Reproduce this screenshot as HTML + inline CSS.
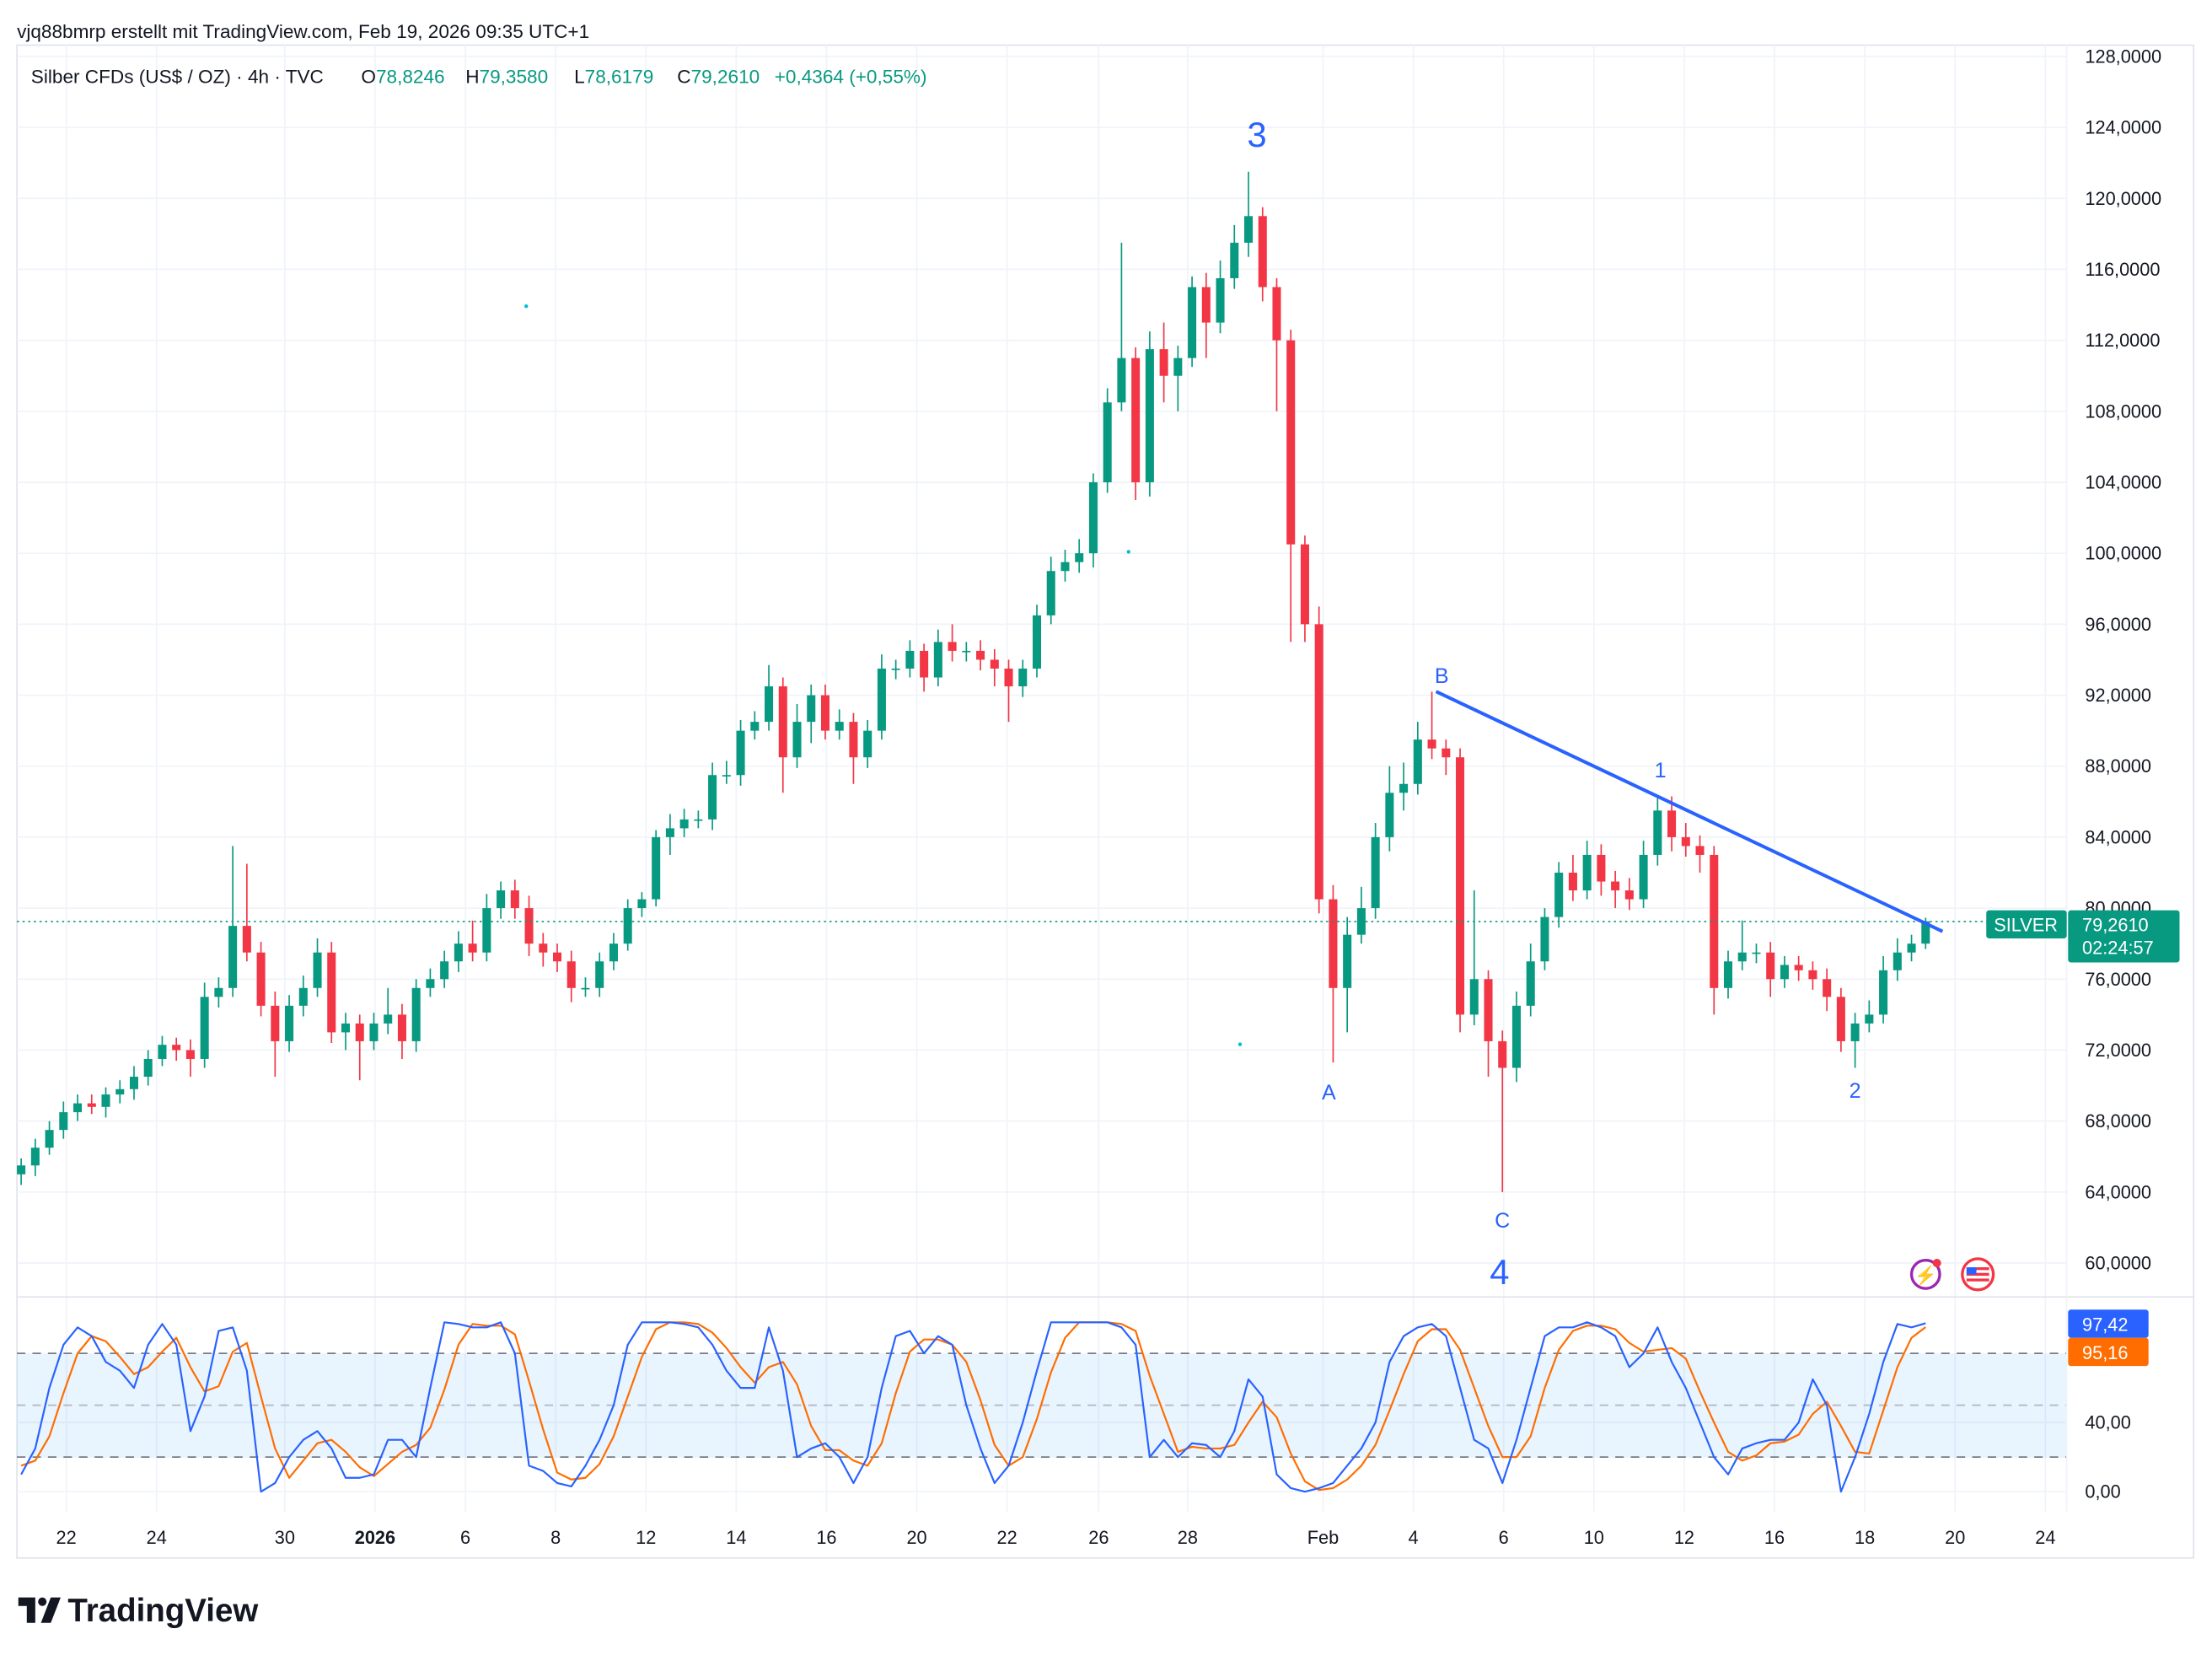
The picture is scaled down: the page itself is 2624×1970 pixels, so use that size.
<!DOCTYPE html>
<html><head><meta charset="utf-8">
<style>
html,body{margin:0;padding:0;background:#fff;}
svg{display:block;font-family:"Liberation Sans",sans-serif;}
</style></head>
<body>
<svg id="chart" width="2624" height="1970" viewBox="0 0 1568 1177" preserveAspectRatio="none" xmlns="http://www.w3.org/2000/svg">
<rect x="0" y="0" width="1568" height="1177" fill="#ffffff"/>
<text x="12" y="27" font-size="13.5" fill="#131722">vjq88bmrp erstellt mit TradingView.com, Feb 19, 2026 09:35 UTC+1</text>
<rect x="12" y="32" width="1543" height="1072" fill="none" stroke="#e0e3eb" stroke-width="1"/>
<g id="grid"></g>
<rect x="12" y="959" width="1453" height="74" fill="#2196f3" fill-opacity="0.1"/>
<g id="levels"></g>
<line x1="12" y1="919" x2="1555" y2="919" stroke="#e0e3eb" stroke-width="1"/>
<line x1="1465" y1="32" x2="1465" y2="1071" stroke="#f0f3fa" stroke-width="1"/>
<text y="59" font-size="13.5" fill="#131722"><tspan x="22">Silber CFDs (US$ / OZ) · 4h · TVC</tspan><tspan x="256">O</tspan><tspan fill="#089981">78,8246</tspan><tspan x="330">H</tspan><tspan fill="#089981">79,3580</tspan><tspan x="407">L</tspan><tspan fill="#089981">78,6179</tspan><tspan x="480">C</tspan><tspan fill="#089981">79,2610</tspan><tspan x="549" fill="#089981">+0,4364 (+0,55%)</tspan></text>
<g id="candles"></g>
<g id="stoch"></g>
<g id="axes"></g>
<line x1="12" y1="653" x2="1465" y2="653" stroke="#089981" stroke-width="1" stroke-dasharray="1.5,2.5"/>
<line x1="1018" y1="490" x2="1377" y2="660" stroke="#2962ff" stroke-width="2.4"/>
<text x="891" y="104" font-size="25" fill="#2962ff" text-anchor="middle">3</text>
<text x="1063" y="910" font-size="25" fill="#2962ff" text-anchor="middle">4</text>
<text x="1022" y="484" font-size="15" fill="#2962ff" text-anchor="middle">B</text>
<text x="1177" y="551" font-size="15" fill="#2962ff" text-anchor="middle">1</text>
<text x="942" y="779" font-size="15" fill="#2962ff" text-anchor="middle">A</text>
<text x="1065" y="870" font-size="15" fill="#2962ff" text-anchor="middle">C</text>
<text x="1315" y="778" font-size="15" fill="#2962ff" text-anchor="middle">2</text>
<circle cx="373" cy="217" r="1.3" fill="#00bcd4"/>
<circle cx="800" cy="391" r="1.3" fill="#00bcd4"/>
<circle cx="879" cy="740" r="1.3" fill="#00bcd4"/>
<g><circle cx="1365" cy="903" r="10" fill="#fff" stroke="#9c27b0" stroke-width="2"/><text x="1365" y="908" font-size="13" text-anchor="middle" fill="#9c27b0">⚡</text><circle cx="1373" cy="895" r="3" fill="#f23645"/></g>
<g><circle cx="1402" cy="903" r="11" fill="#fff" stroke="#f23645" stroke-width="2"/><rect x="1394" y="898" width="16" height="10" fill="#f23645"/><rect x="1394" y="900" width="16" height="2" fill="#fff"/><rect x="1394" y="904" width="16" height="2" fill="#fff"/><rect x="1394" y="898" width="7" height="5" fill="#2962ff"/></g>
<rect x="1408" y="645" width="57" height="20" rx="2" fill="#089981"/>
<text x="1436" y="660" font-size="13" fill="#fff" text-anchor="middle">SILVER</text>
<rect x="1466" y="645" width="79" height="37" rx="2" fill="#089981"/>
<text x="1476" y="660" font-size="13" fill="#fff">79,2610</text>
<text x="1476" y="676" font-size="13" fill="#fff">02:24:57</text>
<rect x="1466" y="928" width="57" height="20" rx="2" fill="#2962ff"/>
<text x="1476" y="943" font-size="13" fill="#fff">97,42</text>
<rect x="1466" y="948" width="57" height="20" rx="2" fill="#ff6d00"/>
<text x="1476" y="963" font-size="13" fill="#fff">95,16</text>
<g>
<path d="M13 1132 h12 v18 h-6 v-12 h-6 z" fill="#131722"/><circle cx="30" cy="1135" r="3" fill="#131722"/><path d="M36 1132 h7 l-7 18 h-7 z" fill="#131722"/>
<text x="48" y="1149" font-size="23" font-weight="bold" fill="#131722">TradingView</text>
</g>
</svg>
<script>
const closes=[65.5,66.5,67.5,68.5,69.0,68.8,69.5,69.8,70.5,71.5,
72.3,72.0,71.5,75.0,75.5,79.0,77.5,74.5,72.5,74.5,
75.5,77.5,73.0,73.5,72.5,73.5,74.0,72.5,75.5,76.0,
77.0,78.0,77.5,80.0,81.0,80.0,78.0,77.5,77.0,75.5,
75.5,77.0,78.0,80.0,80.5,84.0,84.5,85.0,85.0,87.5,
87.5,90.0,90.5,92.5,88.5,90.5,92.0,90.0,90.5,88.5,
90.0,93.5,93.5,94.5,93.0,95.0,94.5,94.5,94.0,93.5,
92.5,93.5,96.5,99.0,99.5,100.0,104.0,108.5,111.0,104.0,
111.5,110.0,111.0,115.0,113.0,115.5,117.5,119.0,115.0,112.0,
100.5,96.0,80.5,75.5,78.5,80.0,84.0,86.5,87.0,89.5,
89.0,88.5,74.0,76.0,72.5,71.0,74.5,77.0,79.5,82.0,
81.0,83.0,81.5,81.0,80.5,83.0,85.5,84.0,83.5,83.0,
75.5,77.0,77.5,77.5,76.0,76.8,76.5,76.0,75.0,72.5,
73.5,74.0,76.5,77.5,78.0,79.26];
const openFirst=65.0;
const wickUp=[.4,.5,.5,.6,.5,.5,.4,.5,.6,.5,
.5,.4,.6,.8,.6,4.5,3.5,.6,.8,.6,
.7,.8,.6,.6,.5,.6,1.5,.6,.5,.6,
.6,.7,1.3,.8,.5,.6,.7,.6,.5,.6,
.6,.5,.6,.5,.4,.4,.8,.6,.5,.7,
.8,.6,.6,1.2,.5,1.0,.6,.6,.7,.5,
.6,.8,.5,.6,.4,.7,1.0,.5,.6,.6,
.5,.5,.6,.8,.7,.8,.5,.8,6.5,.6,
1.0,1.5,.7,.6,.8,1.0,1.0,2.5,.5,.5,
.6,.5,1.0,.8,1.0,1.2,.8,1.5,1.2,1.0,
2.7,.5,.5,5.0,.5,.6,.8,1.0,.5,.6,
1.0,.8,.6,.6,.7,.8,.8,.8,.8,.6,
.5,.6,1.8,.5,.6,.5,.5,.5,.6,.5,
.6,.8,.8,.8,.5,.2];
const wickDown=[.6,.6,.4,.5,.5,.4,.6,.5,.6,.5,
.4,.6,1.0,.5,.6,.5,.5,.6,2.0,.6,
.6,.5,.6,1.0,2.2,.5,.6,1.0,.6,.5,
.5,.6,.5,.5,.6,.6,.7,.8,.6,.8,
.5,.5,.5,.4,.5,.4,1.0,.5,.5,.6,
.5,.6,.5,.5,2.0,.6,1.2,.5,.5,1.5,
.6,.5,.6,.5,.8,.5,.6,.6,.6,1.0,
2.0,.6,.5,.5,.6,.6,.8,.6,.5,1.0,
.8,1.5,2.0,.5,2.0,.6,.6,.8,.8,4.0,
5.5,1.0,.8,4.2,2.5,.5,.6,.8,1.0,.6,
.6,1.0,1.0,.6,2.0,7.0,.8,.6,.5,.6,
.6,.5,.8,1.0,.6,.5,.6,.8,.6,1.0,
1.5,.6,.5,.6,1.0,.5,.6,.6,.8,.6,
1.5,.5,.5,.6,.5,.3];
const stochK=[10,25,60,85,95,90,75,70,60,85,
97,85,35,55,93,95,70,0,5,20,
30,35,25,8,8,10,30,30,20,60,
98,97,95,95,98,80,15,12,5,3,
15,30,50,85,98,98,98,97,95,85,
70,60,60,95,70,20,25,28,20,5,
20,60,90,93,80,90,85,50,25,5,
15,40,70,98,98,98,98,98,95,85,
20,30,20,28,27,20,35,65,55,10,
2,0,2,5,15,25,40,75,90,95,
97,90,60,30,25,5,30,60,90,95,
95,98,95,90,72,80,95,75,60,40,
20,10,25,28,30,30,40,65,50,0,
20,45,75,97,95,97.4];
const stochD=[15,18,32,57,80,90,87,78,68,72,
81,89,72,58,61,81,86,55,25,8,
18,28,30,23,14,9,16,23,27,37,
59,85,97,96,96,91,64,36,11,7,
8,16,32,55,78,94,98,98,97,92,
83,72,63,72,75,62,38,24,24,18,
15,28,57,81,88,88,85,75,53,27,
15,20,42,69,89,98,98,98,97,93,
67,45,23,26,25,25,27,40,52,43,
22,6,1,2,7,15,27,47,68,87,
94,94,82,60,38,20,20,32,60,82,
93,96,96,94,86,81,82,83,77,58,
40,23,18,21,28,29,33,45,52,38,
23,22,47,72,89,95.2];
const priceTicks=[60,64,68,72,76,80,84,88,92,96,100,104,108,112,116,120,124,128];
const stochTicks=[0,40];
const timeLabels=["22","24","30","2026","6","8","12","14","16","20","22","26","28","Feb","4","6","10","12","16","18","20","24"];
const timeLabelSlots=[1,3,5.84,7.84,9.84,11.84,13.84,15.84,17.84,19.84,21.84,23.87,25.84,28.84,30.84,32.84,34.84,36.84,38.84,40.84,42.84,44.84];

const NS="http://www.w3.org/2000/svg";
const X0=15, DX=10, SLOT=32.0, SLOT0=15;
function xCandle(i){return X0+i*DX;}
function xSlot(s){return SLOT0+s*SLOT;}
function yPrice(p){return 895-(p-60)*12.574;}
function yStoch(v){return 1057-v*1.225;}
function mk(tag,attrs,parent){const e=document.createElementNS(NS,tag);for(const k in attrs)e.setAttribute(k,attrs[k]);parent.appendChild(e);return e;}

const grid=document.getElementById('grid');
priceTicks.forEach(p=>{
  const l=mk('line',{x1:12,x2:1465,y1:yPrice(p),y2:yPrice(p),stroke:'#f0f3fa','stroke-width':1},grid);
  
  
});
stochTicks.forEach(v=>{
  const l=mk('line',{x1:12,x2:1465,y1:yStoch(v),y2:yStoch(v),stroke:'#f0f3fa','stroke-width':1},grid);
  
  
});
timeLabelSlots.forEach(s=>{
  const l=mk('line',{x1:xSlot(s),x2:xSlot(s),y1:32,y2:1071,stroke:'#f0f3fa','stroke-width':1},grid);
  
  
});

const lv=document.getElementById('levels');
[[80,'#787b86'],[50,'#b2b5be'],[20,'#787b86']].forEach(a=>{
  const l=mk('line',{x1:12,x2:1465,y1:yStoch(a[0]),y2:yStoch(a[0]),stroke:a[1],'stroke-width':1,'stroke-dasharray':'6,5'},lv);
  
  
});

const cg=document.getElementById('candles');
closes.forEach((c,i)=>{
  const o=i===0?openFirst:closes[i-1];
  const hi=Math.max(o,c)+wickUp[i], lo=Math.min(o,c)-wickDown[i];
  const col=c>=o?'#089981':'#f23645';
  const x=xCandle(i);
  const g=mk('g',{},cg);
  
  
  mk('line',{x1:x,x2:x,y1:yPrice(hi),y2:yPrice(lo),stroke:col,'stroke-width':1},g);
  const yt=yPrice(Math.max(o,c)), yb=yPrice(Math.min(o,c));
  mk('rect',{x:x-3,y:yt,width:6,height:Math.max(1,yb-yt),fill:col},g);
});

const sg=document.getElementById('stoch');
function poly(arr,col,name){
  const pts=arr.map((v,i)=>xCandle(i)+','+yStoch(v).toFixed(1)).join(' ');
  const p=mk('polyline',{points:pts,fill:'none',stroke:col,'stroke-width':1.3,'stroke-linejoin':'round'},sg);
  
  
}
poly(stochD,'#ff6d00','stoch-d-line');
poly(stochK,'#2962ff','stoch-k-line');

const ax=document.getElementById('axes');
priceTicks.forEach(p=>{
  const t=mk('text',{x:1478,y:yPrice(p)+4.5,'font-size':13,fill:'#131722'},ax);
  t.textContent=p.toFixed(4).replace('.',',');
  
  
});
stochTicks.forEach(v=>{
  const t=mk('text',{x:1478,y:yStoch(v)+4.5,'font-size':13,fill:'#131722'},ax);
  t.textContent=v.toFixed(2).replace('.',',');
  
  
});
timeLabels.forEach((lab,i)=>{
  const t=mk('text',{x:xSlot(timeLabelSlots[i]),y:1094,'font-size':13,fill:'#131722','text-anchor':'middle','font-weight':lab==='2026'?'bold':'normal'},ax);
  t.textContent=lab;
  
  
});
</script>
</body></html>
